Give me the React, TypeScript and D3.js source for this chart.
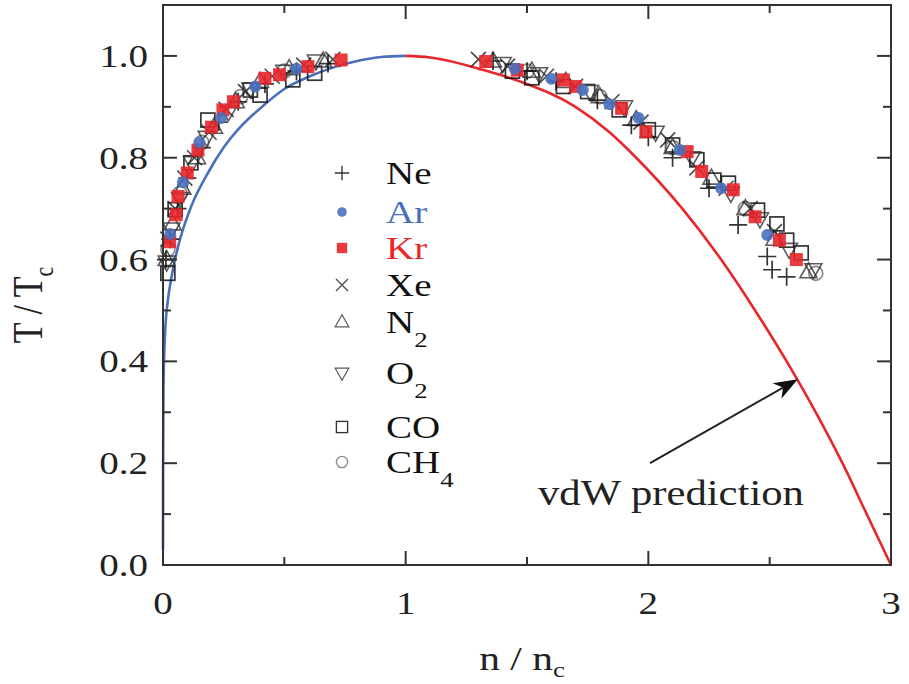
import React, { useEffect } from "react";
import * as d3 from "d3";

// reduced density n/nc vs reduced temperature T/Tc
const neData: [number, number][] = [
  [0.012, 0.6], [0.03, 0.64], [0.06, 0.7], [0.1, 0.76], [0.16, 0.82], [0.23, 0.87],
  [0.31, 0.91], [0.42, 0.945], [0.55, 0.97], [0.68, 0.985],
  [1.36, 0.99], [1.5, 0.97], [1.62, 0.95], [1.79, 0.913], [1.93, 0.864], [2.0, 0.84],
  [2.1, 0.8], [2.25, 0.74], [2.37, 0.668], [2.49, 0.606], [2.51, 0.58], [2.57, 0.566],
];
const arData: [number, number][] = [
  [0.03, 0.65], [0.082, 0.752], [0.15, 0.83], [0.24, 0.878], [0.38, 0.94], [0.55, 0.975],
  [1.45, 0.975], [1.6, 0.955], [1.73, 0.933], [1.84, 0.905], [1.96, 0.878], [2.13, 0.815],
  [2.3, 0.74], [2.49, 0.648],
];
const krData: [number, number][] = [
  [0.028, 0.635], [0.054, 0.688], [0.062, 0.724], [0.1, 0.77], [0.144, 0.815], [0.2, 0.86],
  [0.247, 0.894], [0.29, 0.91], [0.42, 0.956], [0.48, 0.963], [0.597, 0.979], [0.734, 0.992],
  [1.33, 0.989], [1.46, 0.972], [1.65, 0.953], [1.7, 0.94], [1.89, 0.897], [1.99, 0.851],
  [2.16, 0.812], [2.22, 0.773], [2.35, 0.737], [2.44, 0.684], [2.54, 0.638], [2.61, 0.6],
];
const xeData: [number, number][] = [
  [0.02, 0.64], [0.05, 0.7], [0.09, 0.76], [0.13, 0.8], [0.19, 0.85], [0.26, 0.895],
  [0.34, 0.93], [0.45, 0.96], [0.58, 0.982], [0.7, 0.993],
  [1.3, 0.993], [1.42, 0.98], [1.58, 0.96], [1.7, 0.94], [1.85, 0.91], [1.97, 0.87],
  [2.08, 0.835], [2.2, 0.78], [2.32, 0.74], [2.42, 0.7], [2.52, 0.655],
];
const n2Data: [number, number][] = [
  [0.015, 0.6], [0.04, 0.67], [0.08, 0.74], [0.14, 0.8], [0.21, 0.86], [0.3, 0.91],
  [0.4, 0.95], [0.52, 0.975], [0.66, 0.99],
  [1.36, 0.99], [1.52, 0.97], [1.66, 0.95], [1.8, 0.92], [1.95, 0.875], [2.1, 0.82],
  [2.26, 0.76], [2.4, 0.7], [2.52, 0.64], [2.66, 0.576],
];
const o2Data: [number, number][] = [
  [0.015, 0.595], [0.035, 0.66], [0.07, 0.72], [0.12, 0.79], [0.18, 0.84], [0.27, 0.89],
  [0.36, 0.935], [0.5, 0.97], [0.63, 0.99],
  [1.4, 0.985], [1.55, 0.965], [1.76, 0.93], [1.9, 0.9], [2.03, 0.85], [2.18, 0.8],
  [2.34, 0.73], [2.46, 0.68], [2.58, 0.62], [2.68, 0.58],
];
const coData: [number, number][] = [
  [0.02, 0.573], [0.05, 0.698], [0.115, 0.79], [0.185, 0.874], [0.36, 0.933], [0.4, 0.923],
  [0.535, 0.953], [0.625, 0.966],
  [1.44, 0.97], [1.52, 0.957], [1.65, 0.94], [1.75, 0.93], [1.88, 0.894], [2.0, 0.855],
  [2.1, 0.825], [2.2, 0.796], [2.27, 0.756], [2.33, 0.75], [2.45, 0.697], [2.53, 0.67],
  [2.57, 0.638], [2.63, 0.613],
];
const ch4Data: [number, number][] = [
  [0.02, 0.62], [0.07, 0.73], [0.16, 0.83], [0.32, 0.92], [0.5, 0.97],
  [1.5, 0.97], [1.8, 0.92], [2.1, 0.82], [2.4, 0.7], [2.69, 0.573],
];

// vdW coexistence curve
const vdwGas: [number, number][] = [
  [0, 0.03], [0.0005, 0.2], [0.002, 0.35], [0.008, 0.45], [0.02, 0.52], [0.033, 0.56],
  [0.062, 0.625], [0.115, 0.703], [0.185, 0.77], [0.25, 0.82], [0.32, 0.861], [0.42, 0.905],
  [0.5, 0.935], [0.6, 0.959], [0.7, 0.977], [0.8, 0.99], [0.9, 0.998], [1, 1],
];
const vdwLiquid: [number, number][] = [
  [1, 1], [1.1, 0.997], [1.18, 0.99], [1.3, 0.975], [1.47, 0.95], [1.7, 0.9], [1.84, 0.85],
  [1.95, 0.8], [2.14, 0.7], [2.3, 0.6], [2.44, 0.5], [2.57, 0.4], [2.69, 0.3],
  [2.8, 0.2], [2.9, 0.1], [3, 0],
];
const arrowFrom: [number, number] = [2.007, 0.2];
const arrowTo: [number, number] = [2.616, 0.365];

const xMajor = [0, 1, 2, 3];
const xMinor = [0.5, 1.5, 2.5];
const yMajor = [0, 0.2, 0.4, 0.6, 0.8, 1.0];
const yMinor = [0.1, 0.3, 0.5, 0.7, 0.9];

const BLUE = "#4a70bd";
const RED = "#e8272b";

const species = [
  { name: "Ne", sub: "", data: neData, shape: "plus", color: "#111", textColor: "#111", ly: 173 },
  { name: "Ar", sub: "", data: arData, shape: "dot", color: BLUE, textColor: BLUE, ly: 212 },
  { name: "Kr", sub: "", data: krData, shape: "fsquare", color: RED, textColor: RED, ly: 248 },
  { name: "Xe", sub: "", data: xeData, shape: "times", color: "#222", textColor: "#111", ly: 285 },
  { name: "N", sub: "2", data: n2Data, shape: "tri", color: "#333", textColor: "#111", ly: 322 },
  { name: "O", sub: "2", data: o2Data, shape: "tridown", color: "#333", textColor: "#111", ly: 373 },
  { name: "CO", sub: "", data: coData, shape: "square", color: "#111", textColor: "#111", ly: 427 },
  { name: "CH", sub: "4", data: ch4Data, shape: "circle", color: "#777", textColor: "#111", ly: 462 },
];

const SX = 1.22; // the figure's text is stretched horizontally
const FONT = "'Liberation Serif', 'Times New Roman', serif";

function Marker({ shape, color, x, y, s = 1 }: { shape: string; color: string; x: number; y: number; s?: number }) {
  const t = `translate(${x},${y}) scale(${s})`;
  if (shape === "plus")
    return <path transform={t} d="M-9,0H9M0,-9V9" stroke={color} strokeWidth={1.7} fill="none" opacity={0.85} />;
  if (shape === "times")
    return <path transform={t} d="M-7.5,-7.5L7.5,7.5M-7.5,7.5L7.5,-7.5" stroke={color} strokeWidth={1.7} fill="none" opacity={0.8} />;
  if (shape === "dot") return <circle transform={t} r={6} fill={color} opacity={0.9} />;
  if (shape === "fsquare") return <rect transform={t} x={-6.5} y={-6.5} width={13} height={13} fill={color} opacity={0.9} />;
  if (shape === "square")
    return <rect transform={t} x={-7} y={-7} width={14} height={14} fill="none" stroke={color} strokeWidth={1.7} opacity={0.85} />;
  if (shape === "circle") return <circle transform={t} r={7} fill="none" stroke={color} strokeWidth={1.7} opacity={0.85} />;
  if (shape === "tri")
    return <path transform={t} d="M0,-9L8.5,6L-8.5,6Z" fill="none" stroke={color} strokeWidth={1.6} opacity={0.8} />;
  return <path transform={t} d="M0,9L8.5,-6L-8.5,-6Z" fill="none" stroke={color} strokeWidth={1.6} opacity={0.8} />;
}

export default function App() {
  useEffect(() => {
    document.body.style.margin = "0";
  }, []);

  const W = 909;
  const H = 684;
  const x = d3.scaleLinear().domain([0, 3]).range([163, 891]);
  const y = d3.scaleLinear().domain([0, 1.1]).range([565, 5]);
  const [x0, x1] = x.range();
  const [y0, y1] = y.range();

  const line = d3
    .line<[number, number]>()
    .x((d) => x(d[0]))
    .y((d) => y(d[1]))
    .curve(d3.curveMonotoneX);

  const ax = x(arrowFrom[0]);
  const ay = y(arrowFrom[1]);
  const bx = x(arrowTo[0]);
  const by = y(arrowTo[1]);
  const ang = (Math.atan2(by - ay, bx - ax) * 180) / Math.PI;

  const stretch = (px: number, py: number) => `translate(${px},${py}) scale(${SX},1)`;

  return (
    <svg width={W} height={H} style={{ display: "block", background: "#fff", fontFamily: FONT }}>
      {/* vdW curve */}
      <path d={line(vdwGas) || ""} fill="none" stroke={BLUE} strokeWidth={2.6} />
      <path d={line(vdwLiquid) || ""} fill="none" stroke={RED} strokeWidth={2.6} />

      {/* data */}
      {[6, 7, 4, 5, 3, 0, 2, 1].map((i) => {
        const sp = species[i];
        return (
          <g key={sp.name + sp.sub}>
            {sp.data.map((d, j) => (
              <Marker key={j} shape={sp.shape} color={sp.color} x={x(d[0])} y={y(d[1])} />
            ))}
          </g>
        );
      })}

      {/* frame and ticks */}
      <rect x={x0} y={y1} width={x1 - x0} height={y0 - y1} fill="none" stroke="#333" strokeWidth={2} />
      {xMajor.map((v) => (
        <g key={"xm" + v} stroke="#333" strokeWidth={2}>
          <line x1={x(v)} x2={x(v)} y1={y0} y2={y0 - 14} />
          <line x1={x(v)} x2={x(v)} y1={y1} y2={y1 + 14} />
        </g>
      ))}
      {xMinor.map((v) => (
        <g key={"xn" + v} stroke="#333" strokeWidth={2}>
          <line x1={x(v)} x2={x(v)} y1={y0} y2={y0 - 8} />
          <line x1={x(v)} x2={x(v)} y1={y1} y2={y1 + 8} />
        </g>
      ))}
      {yMajor.map((v) => (
        <g key={"ym" + v} stroke="#333" strokeWidth={2}>
          <line x1={x0} x2={x0 + 14} y1={y(v)} y2={y(v)} />
          <line x1={x1} x2={x1 - 14} y1={y(v)} y2={y(v)} />
        </g>
      ))}
      {yMinor.map((v) => (
        <g key={"yn" + v} stroke="#333" strokeWidth={2}>
          <line x1={x0} x2={x0 + 8} y1={y(v)} y2={y(v)} />
          <line x1={x1} x2={x1 - 8} y1={y(v)} y2={y(v)} />
        </g>
      ))}

      {/* tick labels */}
      {yMajor.map((v) => (
        <text key={"yl" + v} transform={stretch(148, y(v) + 11)} textAnchor="end" fontSize={32} fill="#222">
          {d3.format(".1f")(v)}
        </text>
      ))}
      {xMajor.map((v) => (
        <text key={"xl" + v} transform={stretch(x(v), 614)} textAnchor="middle" fontSize={32} fill="#222">
          {v}
        </text>
      ))}

      {/* axis titles */}
      <text transform={stretch(522, 670)} textAnchor="middle" fontSize={34} fill="#222">
        n / n<tspan fontSize={22} dy={7}>c</tspan>
      </text>
      <text transform={`translate(42,305) rotate(-90) scale(1,${SX})`} textAnchor="middle" fontSize={34} fill="#222">
        T / T<tspan fontSize={22} dy={9}>c</tspan>
      </text>

      {/* legend */}
      {species.map((sp) => (
        <g key={"lg" + sp.name + sp.sub}>
          <Marker shape={sp.shape} color={sp.color} x={342} y={sp.ly} s={0.8} />
          <text transform={stretch(386, sp.ly + 11)} fontSize={32} fill={sp.textColor}>
            {sp.name}
            {sp.sub && (
              <tspan fontSize={22} dy={14}>
                {sp.sub}
              </tspan>
            )}
          </text>
        </g>
      ))}

      {/* annotation */}
      <line x1={ax} y1={ay} x2={bx - 10 * Math.cos((ang * Math.PI) / 180)} y2={by - 10 * Math.sin((ang * Math.PI) / 180)} stroke="#222" strokeWidth={2} />
      <path transform={`translate(${bx},${by}) rotate(${ang})`} d="M0,0L-24,-9L-17,0L-24,9Z" fill="#111" />
      <text transform={stretch(538, 505)} fontSize={35} fill="#222">
        vdW prediction
      </text>
    </svg>
  );
}
